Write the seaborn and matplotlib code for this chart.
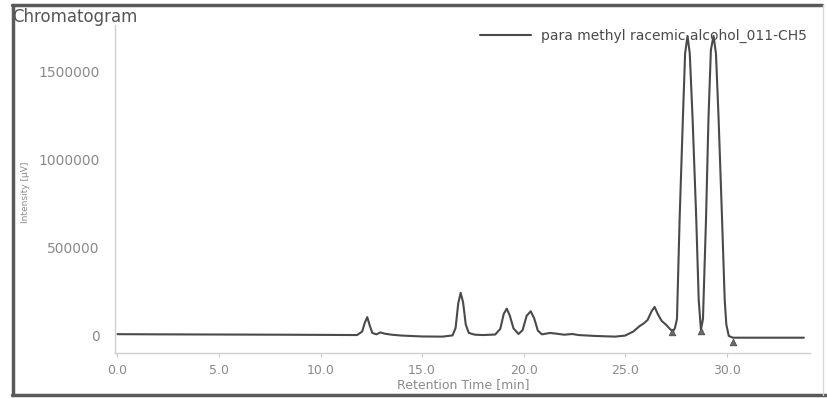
import matplotlib
matplotlib.use("Agg")
import matplotlib.pyplot as plt
import seaborn as sns
import pandas as pd
from matplotlib.lines import Line2D

# ---- data ----
time_min = [0.0, 2.0, 5.0, 8.0, 10.0, 11.8, 12.05, 12.18, 12.3, 12.42, 12.55, 12.75,
            12.95, 13.15, 13.5, 14.0, 15.0, 16.0, 16.5, 16.65, 16.78, 16.9, 17.02,
            17.15, 17.3, 17.6, 18.0, 18.6, 18.85, 19.02, 19.17, 19.32, 19.5, 19.75,
            19.95, 20.15, 20.35, 20.52, 20.7, 20.9, 21.3, 21.6, 22.0, 22.4, 22.7,
            23.5, 24.5, 25.0, 25.4, 25.7, 25.9, 26.1, 26.3, 26.45, 26.6, 26.8, 27.0,
            27.2, 27.35, 27.45, 27.55, 27.68, 27.84, 27.95, 28.07, 28.18, 28.32,
            28.5, 28.62, 28.73, 28.83, 28.98, 29.1, 29.22, 29.35, 29.47, 29.6,
            29.77, 29.9, 29.98, 30.1, 30.3, 31.0, 33.8]
intensity = [5000, 4000, 3000, 2000, 1000, 0, 20000, 70000, 102000, 55000, 12000, 4000,
             15000, 8000, 2000, -3000, -8000, -9000, -2000, 40000, 180000, 240000, 185000,
             60000, 12000, 2000, 0, 3000, 35000, 120000, 150000, 110000, 38000, 6000,
             28000, 110000, 135000, 95000, 25000, 4000, 12000, 8000, 2000, 6000, 0,
             -5000, -9000, -3000, 20000, 50000, 65000, 85000, 135000, 160000, 120000,
             80000, 60000, 35000, 20000, 40000, 91000, 659000, 1227000, 1600000,
             1700000, 1600000, 1227000, 659000, 200000, 30000, 91000, 659000, 1227000,
             1620000, 1700000, 1600000, 1227000, 659000, 200000, 60000, -5000,
             -15000, -15000, -15000]

marker_time = [27.32, 28.72, 30.32]
marker_intensity = [20000, 25000, -42000]

legend_label = "para methyl racemic alcohol_011-CH5"
x_ticks = [0, 5, 10, 15, 20, 25, 30]
x_tick_labels = ["0.0", "5.0", "10.0", "15.0", "20.0", "25.0", "30.0"]
y_ticks = [0, 500000, 1000000, 1500000]
y_tick_labels = ["0", "500000", "1000000", "1500000"]

df = pd.DataFrame({"time": time_min, "intensity": intensity})
mk = pd.DataFrame({"time": marker_time, "intensity": marker_intensity})

sns.set_theme(style="white")
plt.rcParams["font.family"] = ["DejaVu Sans"]

W, H = 827, 398
fig = plt.figure(figsize=(W / 100, H / 100), dpi=100)
ax = fig.add_axes([115 / W, 1 - 353 / H, (810 - 115) / W, (353 - 25) / H])

line_col = "#4a4a4a"
sns.lineplot(data=df, x="time", y="intensity", ax=ax, color=line_col, linewidth=1.5,
             estimator=None, sort=False, label=legend_label)
sns.scatterplot(data=mk, x="time", y="intensity", ax=ax, marker="^", s=22,
                color="#6a6a6a", edgecolor="#4a4a4a", linewidth=0.6, zorder=3,
                legend=False)

ax.set_xlim(-0.12, 34.1)
ax.set_ylim(-102000, 1762000)
ax.set_xticks(x_ticks)
ax.set_xticklabels(x_tick_labels)
ax.set_yticks(y_ticks)
ax.set_yticklabels(y_tick_labels)

tick_col = "#8a8a8a"
ax.tick_params(axis="both", colors="#c8c8c8", labelcolor=tick_col,
               length=3, width=0.8)
ax.tick_params(axis="x", pad=5, bottom=True, direction="out", labelsize=9)
ax.tick_params(axis="y", pad=8, left=False, labelsize=10)

for s in ["top", "right"]:
    ax.spines[s].set_visible(False)
for s in ["left", "bottom"]:
    ax.spines[s].set_color("#d0d0d0")
    ax.spines[s].set_linewidth(1.0)

ax.set_xlabel("")
ax.set_ylabel("")
fig.text(463 / W, 1 - 385 / H, "Retention Time [min]", fontsize=9, color=tick_col,
         ha="center", va="center")
fig.text(25 / W, 1 - 192 / H, "Intensity [µV]", rotation=90, fontsize=6.5,
         color=tick_col, ha="center", va="center")

leg = ax.legend(loc="upper right", bbox_to_anchor=(1.0, 1.0), frameon=False,
                fontsize=10, handlelength=3.7, handletextpad=0.7,
                borderpad=0.0, borderaxespad=0.25)
for t in leg.get_texts():
    t.set_color("#4a4a4a")

fig.text(12 / W, 1 - 17 / H, "Chromatogram", fontsize=12, color="#555555",
         ha="left", va="center")

# page frame
frame_col = "#5a5a5a"
fig.add_artist(Line2D([12 / W, 822 / W], [1 - 5 / H, 1 - 5 / H], color=frame_col,
                      linewidth=2.5, transform=fig.transFigure))
fig.add_artist(Line2D([13 / W, 13 / W], [1 - 5 / H, 1 - 395 / H], color=frame_col,
                      linewidth=2.5, transform=fig.transFigure))
fig.add_artist(Line2D([12 / W, 1.0], [1 - 395 / H, 1 - 395 / H], color=frame_col,
                      linewidth=2.5, transform=fig.transFigure))
fig.add_artist(Line2D([823 / W, 823 / W], [1 - 5 / H, 1 - 395 / H], color="#d8d8d8",
                      linewidth=1.0, transform=fig.transFigure))

fig.savefig("out.png", dpi=100)
